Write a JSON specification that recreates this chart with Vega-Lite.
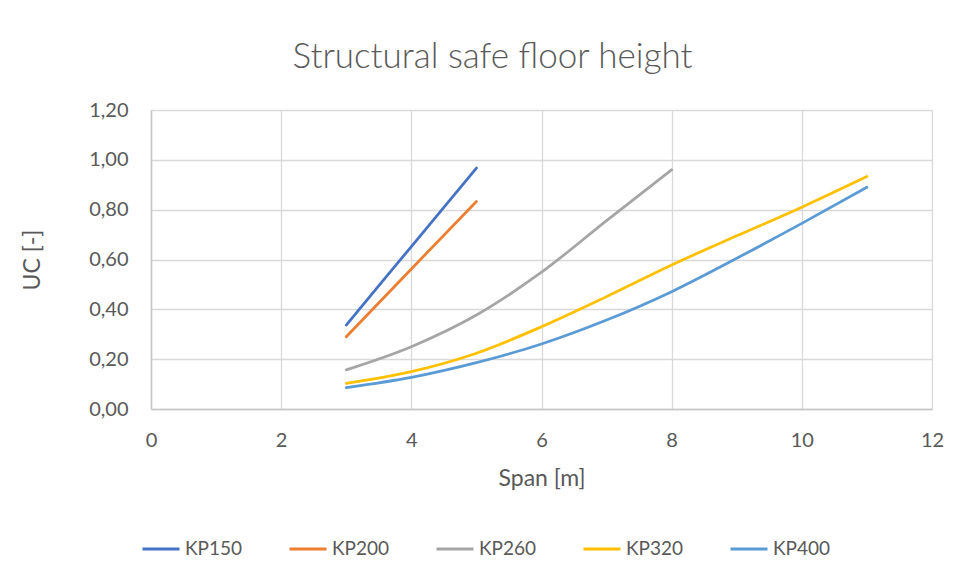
{
  "$schema": "https://vega.github.io/schema/vega-lite/v6.json",
  "width": 781,
  "height": 299,
  "autosize": {"type": "none"},
  "padding": {"left": 151, "top": 110, "right": 28, "bottom": 172},
  "background": "white",
  "title": {
    "text": "Structural safe floor height",
    "anchor": "middle",
    "dx": -49,
    "offset": 25,
    "font": "Lato",
    "fontSize": 35,
    "fontWeight": 300,
    "color": "#595959"
  },
  "data": {
    "values": [
      {"span": 3, "uc": 0.337, "series": "KP150"},
      {"span": 4, "uc": 0.652, "series": "KP150"},
      {"span": 5, "uc": 0.967, "series": "KP150"},
      {"span": 3, "uc": 0.29, "series": "KP200"},
      {"span": 4, "uc": 0.562, "series": "KP200"},
      {"span": 5, "uc": 0.833, "series": "KP200"},
      {"span": 3, "uc": 0.157, "series": "KP260"},
      {"span": 4, "uc": 0.25, "series": "KP260"},
      {"span": 5, "uc": 0.377, "series": "KP260"},
      {"span": 6, "uc": 0.549, "series": "KP260"},
      {"span": 7, "uc": 0.756, "series": "KP260"},
      {"span": 8, "uc": 0.96, "series": "KP260"},
      {"span": 3, "uc": 0.103, "series": "KP320"},
      {"span": 4, "uc": 0.15, "series": "KP320"},
      {"span": 5, "uc": 0.224, "series": "KP320"},
      {"span": 6, "uc": 0.33, "series": "KP320"},
      {"span": 7, "uc": 0.451, "series": "KP320"},
      {"span": 8, "uc": 0.578, "series": "KP320"},
      {"span": 9, "uc": 0.695, "series": "KP320"},
      {"span": 10, "uc": 0.81, "series": "KP320"},
      {"span": 11, "uc": 0.933, "series": "KP320"},
      {"span": 3, "uc": 0.086, "series": "KP400"},
      {"span": 4, "uc": 0.127, "series": "KP400"},
      {"span": 5, "uc": 0.186, "series": "KP400"},
      {"span": 6, "uc": 0.261, "series": "KP400"},
      {"span": 7, "uc": 0.357, "series": "KP400"},
      {"span": 8, "uc": 0.471, "series": "KP400"},
      {"span": 9, "uc": 0.605, "series": "KP400"},
      {"span": 10, "uc": 0.745, "series": "KP400"},
      {"span": 11, "uc": 0.89, "series": "KP400"}
    ]
  },
  "mark": {"type": "line", "interpolate": "monotone", "strokeWidth": 2.75, "strokeCap": "round"},
  "encoding": {
    "x": {
      "field": "span",
      "type": "quantitative",
      "title": "Span [m]",
      "scale": {"domain": [0, 12], "nice": false},
      "axis": {"values": [0, 2, 4, 6, 8, 10, 12], "ticks": false, "labelFlush": false, "labelPadding": 21, "titlePadding": 17}
    },
    "y": {
      "field": "uc",
      "type": "quantitative",
      "title": "UC [-]",
      "scale": {"domain": [0, 1.2], "nice": false},
      "axis": {
        "values": [0, 0.2, 0.4, 0.6, 0.8, 1.0, 1.2],
        "ticks": false,
        "labelFlush": false,
        "labelPadding": 23,
        "titlePadding": 44,
        "labelExpr": "replace(format(datum.value, '.2f'), '.', ',')"
      }
    },
    "color": {
      "field": "series",
      "type": "nominal",
      "scale": {
        "domain": ["KP150", "KP200", "KP260", "KP320", "KP400"],
        "range": ["#4472C4", "#ED7D31", "#A5A5A5", "#FFC000", "#5B9BD5"]
      },
      "legend": {
        "title": null,
        "orient": "none",
        "direction": "horizontal",
        "legendX": -10,
        "legendY": 419,
        "symbolType": "stroke",
        "symbolSize": 1369,
        "symbolStrokeWidth": 3,
        "labelOffset": 4,
        "columnPadding": 40,
        "labelFont": "Lato",
        "labelFontSize": 19,
        "labelColor": "#595959"
      }
    }
  },
  "config": {
    "view": {"stroke": null},
    "axis": {
      "labelFont": "Lato",
      "labelFontSize": 20,
      "labelColor": "#595959",
      "titleFont": "Lato",
      "titleFontSize": 23,
      "titleFontWeight": "normal",
      "titleColor": "#595959",
      "gridColor": "#D9D9D9",
      "gridWidth": 1.3,
      "domainColor": "#C6C6C6",
      "domainWidth": 1.5
    }
  }
}
